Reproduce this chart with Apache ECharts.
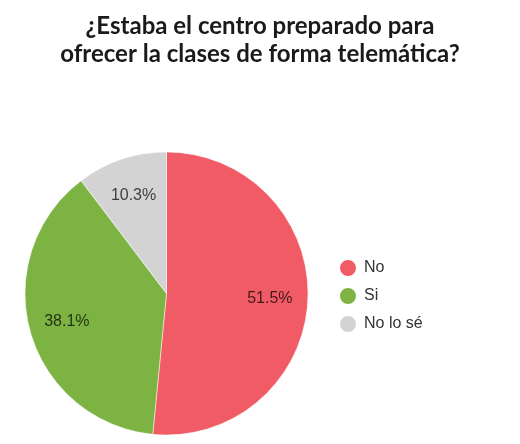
<!DOCTYPE html>
<html>
<head>
<meta charset="utf-8">
<script src="https://cdn.jsdelivr.net/npm/echarts@6/dist/echarts.min.js"></script>
<style>
html,body{margin:0;padding:0;background:#fff;}
#chart{width:520px;height:444px;}
</style>
</head>
<body>
<div id="chart"></div>
<script>
const categories = ['No', 'Si', 'No lo sé'];
const values = [51.5, 38.1, 10.3];
const colors = ['#F05B65', '#7CB342', '#D3D3D3'];

const chart = echarts.init(document.getElementById('chart'));
const data = categories.map((c, i) => ({ name: c, value: values[i], itemStyle: { color: colors[i] } }));
const labelData = categories.map((c, i) => ({ name: c, value: values[i] }));

chart.setOption({
  animation: false,
  title: {
    text: '¿Estaba el centro preparado para\nofrecer la clases de forma telemática?',
    left: 'center',
    top: 7,
    textStyle: { fontFamily: 'Lato', fontWeight: 'bold', fontSize: 24, color: '#1a1a1a', lineHeight: 28 }
  },
  legend: {
    orient: 'vertical',
    left: 333,
    top: 253,
    icon: 'circle',
    itemWidth: 18,
    itemHeight: 18,
    itemGap: 8,
    data: categories,
    textStyle: { fontFamily: 'Liberation Sans', fontSize: 16, color: '#333', padding: [0, 0, 0, 2] }
  },
  series: [
    {
      type: 'pie',
      center: [166.5, 293.5],
      radius: [0, 141.5],
      startAngle: 90,
      clockwise: true,
      data: data,
      label: { show: false },
      labelLine: { show: false },
      itemStyle: { borderColor: '#fff', borderWidth: 0.5 },
      emphasis: { disabled: true }
    },
    {
      type: 'pie',
      center: [166.5, 293.5],
      radius: [0, 201],
      startAngle: 90,
      clockwise: true,
      silent: true,
      legendHoverLink: false,
      data: labelData,
      itemStyle: { color: 'rgba(0,0,0,0)' },
      label: {
        show: true,
        position: 'inside',
        formatter: p => p.value.toFixed(1) + '%',
        fontFamily: 'Liberation Sans',
        fontSize: 16,
        color: 'rgba(0,0,0,0.72)'
      },
      labelLine: { show: false },
      emphasis: { disabled: true }
    }
  ]
});
</script>
</body>
</html>
